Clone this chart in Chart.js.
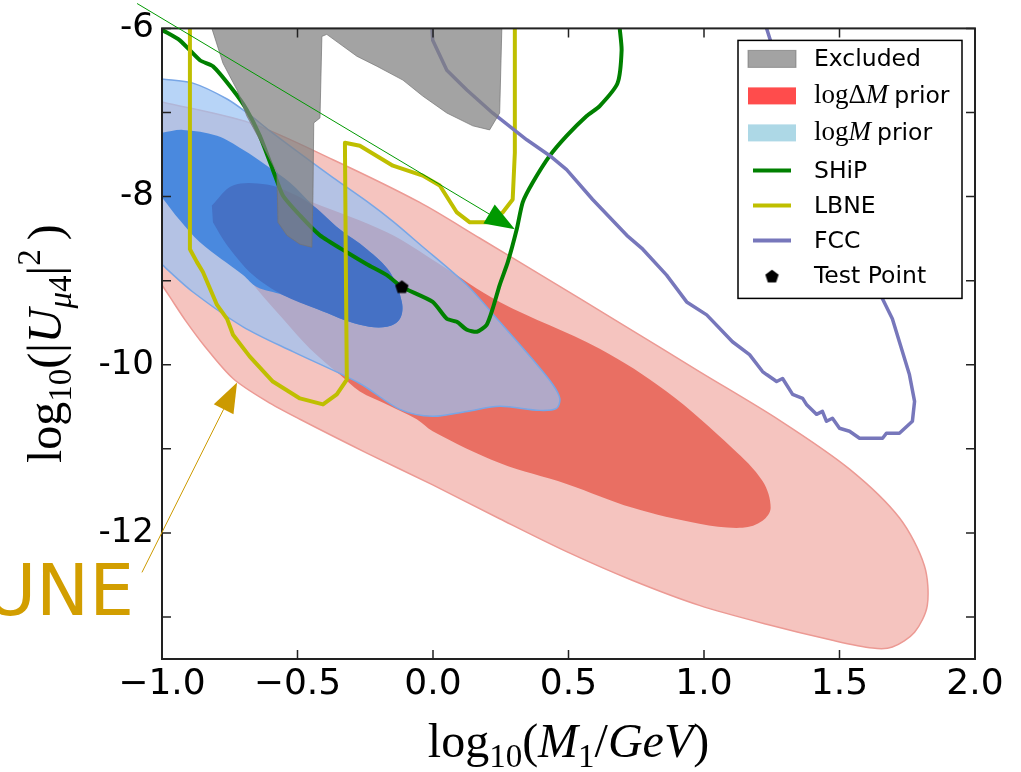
<!DOCTYPE html>
<html lang="en">
<head>
<meta charset="UTF-8">
<script src="https://cdn.jsdelivr.net/npm/chart.js"></script>
<title>Prior contours</title>
<style>
  body { margin: 0; background: #fff; }
</style>
</head>
<body>
<canvas id="grafico" width="1021" height="772"></canvas>
<script>
// eixos
const xTicks = [-1, -0.5, 0, 0.5, 1, 1.5, 2];
const yTicks = [-13, -12, -11, -10, -9, -8, -7, -6];
const yLabels = [-12, -10, -8, -6];

// contornos (log10 M1, log10 |U|^2)
const redOuter = [[-1.000,-6.875],[-0.676,-7.124],[-0.369,-7.562],[-0.049,-8.070],[0.173,-8.496],[0.405,-8.946],
  [0.689,-9.502],[0.983,-10.081],[1.279,-10.661],[1.537,-11.241],[1.721,-11.820],[1.813,-12.388],[1.824,-12.862],
  [1.777,-13.181],[1.695,-13.358],[1.622,-13.370],[1.474,-13.277],[1.231,-13.086],[0.983,-12.862],[0.737,-12.566],
  [0.493,-12.223],[0.246,-11.832],[-0.001,-11.430],[-0.244,-11.051],[-0.491,-10.649],[-0.613,-10.436],[-0.738,-10.164],
  [-0.841,-9.786],[-0.915,-9.466],[-0.971,-9.194],[-1.000,-9.052]];
const redInner = [[-0.816,-8.106],[-0.738,-7.869],[-0.613,-7.857],[-0.443,-8.070],[-0.170,-8.425],[0.025,-8.804],
  [0.246,-9.253],[0.615,-9.809],[0.862,-10.318],[1.105,-10.992],[1.216,-11.383],[1.246,-11.702],[1.216,-11.856],
  [1.142,-11.939],[0.983,-11.891],[0.737,-11.702],[0.493,-11.418],[0.246,-11.170],[-0.001,-10.791],[-0.060,-10.649],
  [-0.170,-10.472],[-0.270,-10.318],[-0.344,-10.117],[-0.454,-9.809],[-0.554,-9.454],[-0.650,-9.100],[-0.712,-8.839],
  [-0.760,-8.579],[-0.812,-8.307]];
const blueOuter = [[-1.000,-6.603],[-0.886,-6.651],[-0.760,-6.840],[-0.676,-7.029],[-0.602,-7.219],[-0.480,-7.514],
  [-0.369,-7.775],[-0.244,-8.058],[-0.148,-8.295],[-0.049,-8.567],[0.125,-9.052],[0.246,-9.490],[0.368,-9.939],
  [0.442,-10.235],[0.468,-10.401],[0.456,-10.519],[0.394,-10.543],[0.246,-10.495],[0.125,-10.555],[-0.001,-10.614],
  [-0.122,-10.531],[-0.270,-10.223],[-0.517,-9.845],[-0.701,-9.549],[-0.886,-9.135],[-0.982,-8.863],[-1.000,-8.804]];
const blueInner = [[-1.000,-7.242],[-0.923,-7.207],[-0.797,-7.278],[-0.701,-7.443],[-0.613,-7.633],[-0.528,-7.834],
  [-0.443,-8.106],[-0.344,-8.390],[-0.244,-8.626],[-0.159,-8.898],[-0.115,-9.253],[-0.122,-9.454],[-0.170,-9.549],
  [-0.270,-9.525],[-0.428,-9.336],[-0.554,-9.170],[-0.650,-9.076],[-0.701,-8.934],[-0.860,-8.543],[-0.934,-8.283],
  [-1.000,-8.011]];
const blueCore = [[-0.816,-8.106],[-0.738,-7.869],[-0.613,-7.857],[-0.528,-7.952],[-0.443,-8.106],[-0.344,-8.390],
  [-0.244,-8.626],[-0.159,-8.898],[-0.115,-9.253],[-0.122,-9.454],[-0.170,-9.549],[-0.270,-9.525],[-0.428,-9.336],
  [-0.554,-9.170],[-0.664,-8.934],[-0.760,-8.579],[-0.812,-8.307]];
const excluded = [[-0.816,-6.000],[-0.775,-6.414],[-0.723,-6.733],[-0.687,-7.041],[-0.639,-7.325],[-0.576,-7.715],
  [-0.572,-8.307],[-0.539,-8.461],[-0.491,-8.567],[-0.447,-8.603],[-0.443,-7.987],[-0.440,-7.124],[-0.417,-7.065],
  [-0.410,-6.095],[-0.392,-6.071],[-0.281,-6.331],[-0.207,-6.450],[-0.111,-6.615],[-0.038,-6.804],[0.051,-7.006],
  [0.147,-7.159],[0.209,-7.207],[0.246,-7.006],[0.254,-6.000]];
const ship = [[-0.996,-6.024],[-0.934,-6.142],[-0.860,-6.379],[-0.812,-6.450],[-0.738,-6.733],[-0.687,-6.970],
  [-0.639,-7.278],[-0.591,-7.680],[-0.554,-7.987],[-0.491,-8.224],[-0.417,-8.461],[-0.318,-8.662],[-0.244,-8.804],
  [-0.170,-8.934],[-0.115,-9.076],[-0.001,-9.253],[0.051,-9.454],[0.088,-9.490],[0.125,-9.584],[0.162,-9.608],
  [0.198,-9.525],[0.220,-9.336],[0.246,-9.052],[0.276,-8.780],[0.309,-8.390],[0.331,-8.070],[0.368,-7.834],
  [0.431,-7.514],[0.493,-7.278],[0.567,-7.041],[0.615,-6.923],[0.681,-6.651],[0.696,-6.260],[0.689,-6.000]];
const lbne = [[-0.897,-6.000],[-0.897,-8.626],[-0.871,-8.780],[-0.849,-8.898],[-0.797,-9.289],[-0.760,-9.454],
  [-0.738,-9.644],[-0.676,-9.904],[-0.591,-10.200],[-0.491,-10.401],[-0.406,-10.472],[-0.355,-10.353],[-0.318,-10.176],
  [-0.322,-8.662],[-0.325,-7.360],[-0.270,-7.396],[-0.148,-7.633],[-0.038,-7.751],[0.025,-7.869],[0.088,-8.189],
  [0.136,-8.307],[0.198,-8.307],[0.257,-8.189],[0.294,-8.035],[0.302,-7.479],[0.302,-6.000]];
const fcc = [[-0.004,-6.000],[-0.001,-6.142],[0.051,-6.497],[0.125,-6.733],[0.220,-7.006],[0.346,-7.325],[0.431,-7.514],
  [0.493,-7.680],[0.589,-8.035],[0.715,-8.461],[0.774,-8.626],[0.862,-8.934],[0.936,-9.253],[1.010,-9.407],
  [1.105,-9.727],[1.168,-9.880],[1.216,-10.081],[1.231,-10.117],[1.268,-10.200],[1.290,-10.164],[1.327,-10.353],
  [1.364,-10.401],[1.378,-10.472],[1.415,-10.590],[1.437,-10.555],[1.452,-10.673],[1.474,-10.637],[1.500,-10.756],
  [1.537,-10.791],[1.574,-10.874],[1.659,-10.874],[1.673,-10.815],[1.721,-10.815],[1.769,-10.673],[1.777,-10.436],
  [1.758,-10.117],[1.721,-9.727],[1.695,-9.454],[1.659,-9.218],[1.611,-8.662],[1.500,-7.834],[1.352,-7.006],
  [1.260,-6.296],[1.231,-6.000]];
const testPoint = [[-0.115,-9.076]];

// anotacoes (em unidades dos eixos)
const setaShip = [[-1.092,-5.704],[0.302,-8.390]];
const setaDune = [[-1.074,-12.470],[-0.723,-10.210]];
const textoDune = [-1.103,-12.980];

const pts = arr => arr.map(p => ({x: p[0], y: p[1]}));

// marcador pentagono
const pentagono = document.createElement('canvas');
pentagono.width = 15; pentagono.height = 15;
const pc = pentagono.getContext('2d');
pc.beginPath();
for (let i = 0; i < 5; i++) {
  const a = -Math.PI / 2 + i * 2 * Math.PI / 5;
  pc.lineTo(7.5 + 7 * Math.cos(a), 7.8 + 7 * Math.sin(a));
}
pc.closePath();
pc.fillStyle = '#000';
pc.fill();

const R = s => s + 'px "Liberation Serif"';
const I = s => 'italic ' + s + 'px "Liberation Serif"';
const S = s => s + 'px "DejaVu Sans"';

function larguraPartes(ctx, partes) {
  let w = 0;
  partes.forEach(p => { ctx.font = p.f; w += ctx.measureText(p.t).width + (p.gap || 0); });
  return w;
}
function desenhaPartes(ctx, partes, x, y) {
  partes.forEach(p => {
    ctx.font = p.f;
    ctx.fillText(p.t, x, y + (p.dy || 0));
    x += ctx.measureText(p.t).width + (p.gap || 0);
  });
}

function seta(ctx, x, y, a, b, cor) {
  const p0 = [x.getPixelForValue(a[0]), y.getPixelForValue(a[1])];
  const p1 = [x.getPixelForValue(b[0]), y.getPixelForValue(b[1])];
  const dx = p1[0] - p0[0], dy = p1[1] - p0[1];
  const L = Math.hypot(dx, dy), ux = dx / L, uy = dy / L;
  const bx = p1[0] - 30 * ux, by = p1[1] - 30 * uy;
  ctx.strokeStyle = cor; ctx.fillStyle = cor; ctx.lineWidth = 1;
  ctx.beginPath(); ctx.moveTo(p0[0], p0[1]); ctx.lineTo(bx, by); ctx.stroke();
  ctx.beginPath();
  ctx.moveTo(p1[0], p1[1]);
  ctx.lineTo(bx - 11 * uy, by + 11 * ux);
  ctx.lineTo(bx + 11 * uy, by - 11 * ux);
  ctx.closePath(); ctx.fill();
}

const extras = {
  id: 'extras',
  afterDatasetsDraw(chart) {
    const {ctx, chartArea: a, scales: {x, y}} = chart;
    ctx.save();
    ctx.strokeStyle = '#222';
    ctx.lineWidth = 1.5;
    ctx.beginPath();
    xTicks.forEach(v => {
      const px = x.getPixelForValue(v);
      ctx.moveTo(px, a.bottom); ctx.lineTo(px, a.bottom - 9);
      ctx.moveTo(px, a.top); ctx.lineTo(px, a.top + 9);
    });
    yTicks.forEach(v => {
      const py = y.getPixelForValue(v);
      ctx.moveTo(a.left, py); ctx.lineTo(a.left + 9, py);
      ctx.moveTo(a.right, py); ctx.lineTo(a.right - 9, py);
    });
    ctx.stroke();
    ctx.lineWidth = 2;
    ctx.strokeRect(a.left, a.top, a.right - a.left, a.bottom - a.top);
    ctx.restore();
  },
  afterDraw(chart) {
    const {ctx, chartArea: a, scales: {x, y}} = chart;
    ctx.save();
    ctx.fillStyle = '#000';
    ctx.textBaseline = 'alphabetic';

    // titulo eixo x
    const tx = [{t: 'log', f: R(48)}, {t: '10', f: R(33), dy: 10}, {t: '(', f: R(48)}, {t: 'M', f: I(48)},
      {t: '1', f: R(33), dy: 10}, {t: '/', f: R(48)}, {t: 'GeV', f: I(48)}, {t: ')', f: R(48)}];
    desenhaPartes(ctx, tx, (a.left + a.right) / 2 - larguraPartes(ctx, tx) / 2, 757);

    // titulo eixo y
    const ty = [{t: 'log', f: R(48)}, {t: '10', f: R(33), dy: 10}, {t: '(', f: R(48)}, {t: '|', f: R(48)},
      {t: 'U', f: I(48)}, {t: '\u03bc', f: I(33), dy: 10}, {t: '4', f: R(33), dy: 10}, {t: '|', f: R(48)},
      {t: '2', f: R(33), dy: -21, gap: 9}, {t: ')', f: R(48)}];
    ctx.save();
    ctx.translate(61, (a.top + a.bottom) / 2);
    ctx.rotate(-Math.PI / 2);
    desenhaPartes(ctx, ty, -larguraPartes(ctx, ty) / 2, 0);
    ctx.restore();

    // legenda
    const L = {l: a.right - 237, t: a.top + 12, w: 224, h: 258};
    ctx.fillStyle = '#fff';
    ctx.fillRect(L.l, L.t, L.w, L.h);
    ctx.strokeStyle = '#000'; ctx.lineWidth = 1.5;
    ctx.strokeRect(L.l, L.t, L.w, L.h);
    const lx = L.l + 10, tx0 = L.l + 76;
    const linhas = [18, 55, 92, 130, 165, 200, 235].map(v => L.t + v);
    // patches
    ctx.fillStyle = 'rgba(128,128,128,0.72)'; ctx.fillRect(lx, linhas[0] - 8, 48, 17);
    ctx.strokeStyle = 'rgba(110,110,110,0.6)'; ctx.lineWidth = 1; ctx.strokeRect(lx, linhas[0] - 8, 48, 17);
    ctx.fillStyle = 'rgba(255,0,0,0.7)'; ctx.fillRect(lx, linhas[1] - 8, 48, 17);
    ctx.fillStyle = '#add8e6'; ctx.fillRect(lx, linhas[2] - 8, 48, 17);
    [['#008000', 3], ['#bfbf00', 4], ['#7777bb', 5]].forEach(([c, i]) => {
      ctx.strokeStyle = c; ctx.lineWidth = 4;
      ctx.beginPath(); ctx.moveTo(lx + 5, linhas[i]); ctx.lineTo(lx + 43, linhas[i]); ctx.stroke();
    });
    ctx.drawImage(pentagono, lx + 24 - 7.5, linhas[6] + 1 - 7.5);
    ctx.fillStyle = '#000';
    const base = v => v + 8;
    desenhaPartes(ctx, [{t: 'Excluded', f: S(23.5)}], tx0, base(linhas[0]));
    desenhaPartes(ctx, [{t: 'log', f: R(27)}, {t: '\u0394', f: R(27)}, {t: 'M', f: I(27), gap: 6},
      {t: 'prior', f: S(23.5)}], tx0, base(linhas[1]));
    desenhaPartes(ctx, [{t: 'log', f: R(27)}, {t: 'M', f: I(27), gap: 6}, {t: 'prior', f: S(23.5)}], tx0, base(linhas[2]));
    desenhaPartes(ctx, [{t: 'SHiP', f: S(23.5)}], tx0, base(linhas[3]));
    desenhaPartes(ctx, [{t: 'LBNE', f: S(23.5)}], tx0, base(linhas[4]));
    desenhaPartes(ctx, [{t: 'FCC', f: S(23.5)}], tx0, base(linhas[5]));
    desenhaPartes(ctx, [{t: 'Test Point', f: S(23.5)}], tx0, base(linhas[6]));

    // anotacoes
    seta(ctx, x, y, setaShip[0], setaShip[1], '#009900');
    seta(ctx, x, y, setaDune[0], setaDune[1], '#cc9a00');
    ctx.fillStyle = '#d29e00';
    ctx.font = S(71);
    ctx.textAlign = 'right';
    ctx.fillText('DUNE', x.getPixelForValue(textoDune[0]), y.getPixelForValue(textoDune[1]));
    ctx.restore();
  }
};

function regiao(dados, cor, borda, largura, tensao) {
  return {data: pts(dados), showLine: true, fill: 'shape', backgroundColor: cor, borderColor: borda,
    borderWidth: largura, pointRadius: 0, tension: tensao};
}
function linha(dados, cor, largura, tensao) {
  return {data: pts(dados), showLine: true, fill: false, borderColor: cor, borderWidth: largura,
    pointRadius: 0, tension: tensao, borderJoinStyle: 'round', borderCapStyle: 'round'};
}

// o primeiro dataset fica por cima
const datasets = [
  {data: pts(testPoint), pointStyle: pentagono, pointRadius: 7, showLine: false},
  regiao(excluded, 'rgba(128,128,128,0.72)', 'rgba(115,115,115,0.7)', 1, 0),
  linha(fcc, '#7777bb', 3.5, 0),
  linha(lbne, '#bfbf00', 4, 0),
  linha(ship, '#008000', 4, 0.2),
  regiao(blueCore, '#4571c5', 'rgba(0,0,0,0)', 0, 0.35),
  regiao(blueInner, '#4a89de', 'rgba(0,0,0,0)', 0, 0.35),
  regiao(blueOuter, 'rgba(152,194,244,0.7)', '#78a6e6', 1.5, 0.3),
  regiao(redInner, '#e96f63', 'rgba(0,0,0,0)', 0, 0.35),
  regiao(redOuter, '#f5c4bf', '#ec9a94', 1.5, 0.3)
];

new Chart(document.getElementById('grafico'), {
  type: 'scatter',
  data: {datasets: datasets},
  options: {
    responsive: false,
    animation: false,
    layout: {padding: {top: 25, right: 46, left: 0, bottom: 0}},
    plugins: {legend: {display: false}, tooltip: {enabled: false}},
    scales: {
      x: {
        type: 'linear', min: -1, max: 2,
        grid: {display: false, drawTicks: false}, border: {display: false},
        ticks: {stepSize: 0.5, padding: 4, color: '#000', font: {family: 'DejaVu Sans', size: 36},
          callback: v => (v < 0 ? '\u2212' : '') + Math.abs(v).toFixed(1)},
        afterFit: s => { s.height = 113; }
      },
      y: {
        type: 'linear', min: -13.5, max: -6,
        grid: {display: false, drawTicks: false}, border: {display: false},
        ticks: {stepSize: 1, padding: 8, color: '#000', font: {family: 'DejaVu Sans', size: 34},
          callback: v => yLabels.includes(v) ? String(v) : ''},
        afterFit: s => { s.width = 162; }
      }
    }
  },
  plugins: [extras]
});
</script>
</body>
</html>
